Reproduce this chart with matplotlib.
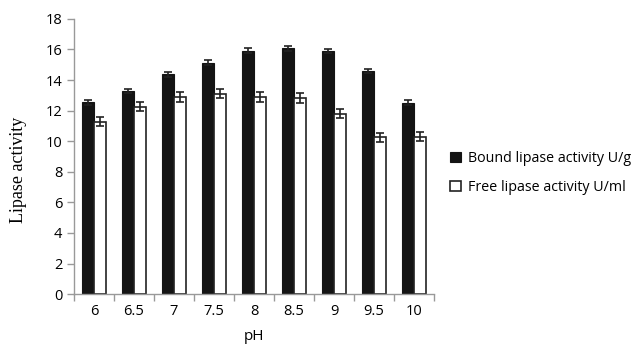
import numpy as np
import matplotlib.pyplot as plt

ph = ['6', '6.5', '7', '7.5', '8', '8.5', '9', '9.5', '10']
bound = [12.55, 13.28, 14.38, 15.14, 15.92, 16.08, 15.9, 14.6, 12.52]
bound_err = [0.15, 0.15, 0.15, 0.15, 0.15, 0.15, 0.15, 0.15, 0.15]
free = [11.28, 12.26, 12.89, 13.11, 12.89, 12.83, 11.8, 10.25, 10.3]
free_err = [0.3, 0.3, 0.3, 0.3, 0.3, 0.3, 0.3, 0.3, 0.3]


def main():
    plt.rcParams['font.family'] = ['Open Sans', 'DejaVu Sans']
    fig = plt.figure(figsize=(6.41, 3.44), dpi=100)
    ax = fig.add_axes([0.1155, 0.145, 0.5615, 0.8])

    x = np.arange(len(ph))
    w = 0.31
    ax.bar(x - w / 2, bound, w, color='#141414', edgecolor='#141414', linewidth=0.8,
           yerr=bound_err, capsize=3, error_kw=dict(ecolor='#222222', elinewidth=1.2, capthick=1.2),
           label='Bound lipase activity U/g')
    ax.bar(x + w / 2, free, w, color='white', edgecolor='#222222', linewidth=1.2,
           yerr=free_err, capsize=3, error_kw=dict(ecolor='#222222', elinewidth=1.2, capthick=1.2),
           label='Free lipase activity U/ml')

    ax.set_xlim(-0.5, len(ph) - 0.5)
    ax.set_ylim(0, 18)
    ax.set_yticks(range(0, 19, 2))
    ax.set_xticks(x)
    ax.set_xticklabels(ph, fontsize=10.5)
    ax.set_xticks(np.arange(-0.5, len(ph), 1), minor=True)
    ax.tick_params(axis='x', which='major', length=0, pad=7)
    ax.tick_params(axis='x', which='minor', length=5, color='#999999', width=1)
    ax.tick_params(axis='y', length=5, color='#999999', width=1, labelsize=10.5)

    for s in ['top', 'right']:
        ax.spines[s].set_visible(False)
    for s in ['left', 'bottom']:
        ax.spines[s].set_color('#999999')
        ax.spines[s].set_linewidth(1)

    ax.set_xlabel('pH', fontsize=11)
    ax.xaxis.set_label_coords(0.5, -0.128)
    ax.set_ylabel('Lipase activity', fontsize=13, family='Liberation Serif')
    ax.yaxis.set_label_coords(-0.13, 0.45)

    ax.legend(loc='center left', bbox_to_anchor=(1.01, 0.44), frameon=False,
              fontsize=10.3, handlelength=0.75, handleheight=0.75, labelspacing=1.0,
              handletextpad=0.45)

    fig.savefig('out.png', dpi=100)


if __name__ == '__main__':
    main()
